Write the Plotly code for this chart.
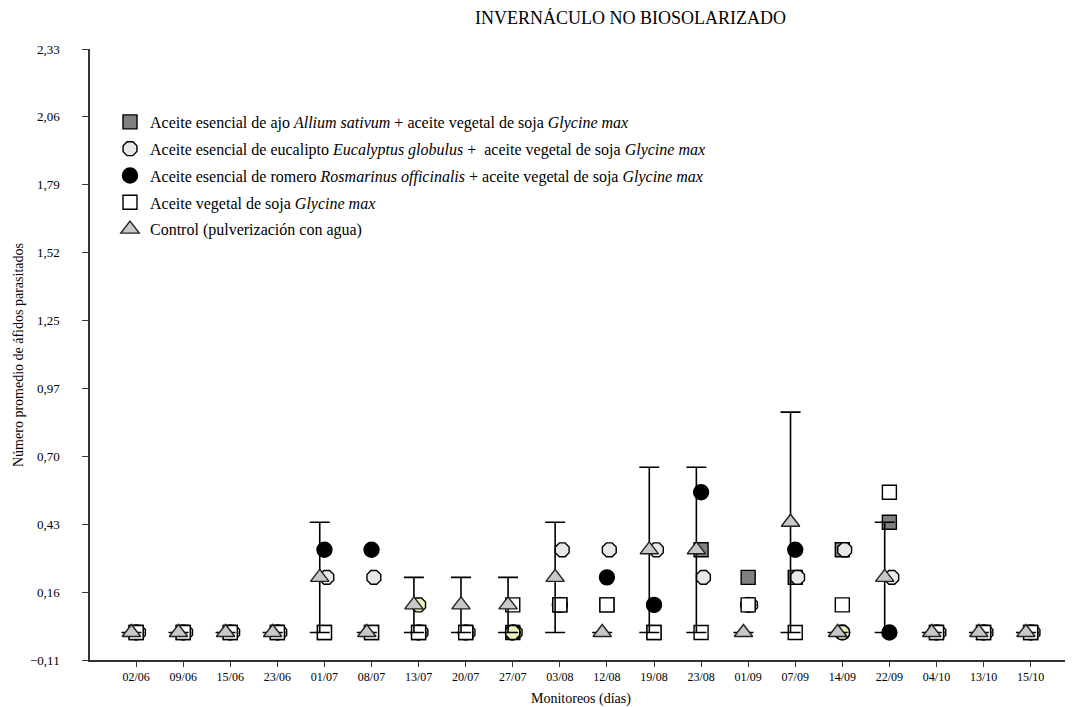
import numpy as np
import plotly.graph_objects as go

fechas = ["02/06", "09/06", "15/06", "23/06", "01/07", "08/07", "13/07", "20/07", "27/07", "03/08",
          "12/08", "19/08", "23/08", "01/09", "07/09", "14/09", "22/09", "04/10", "13/10", "15/10"]

ajo       = [0, 0, 0, 0, 0,    0,    0,    0,    0,    0.11, 0.11, 0,    0.33, 0.22, 0.22, 0.33, 0.44, 0, 0, 0]
eucalipto = [0, 0, 0, 0, 0.22, 0.22, 0,    0,    0,    0.33, 0.33, 0.33, 0.22, 0.11, 0.22, 0.33, 0.22, 0, 0, 0]
romero    = [0, 0, 0, 0, 0.33, 0.33, 0,    0,    0,    0.11, 0.22, 0.11, 0.56, 0.11, 0.33, 0,    0,    0, 0, 0]
extra     = [None, None, None, None, None, None, 0.11, None, 0, None,
             None, None, None, None, None, 0, None, None, None, None]
soja      = [0, 0, 0, 0, 0,    0,    0,    0,    0.11, 0.11, 0.11, 0,    0,    0.11, 0,    0.11, 0.56, 0, 0, 0]
control   = [0, 0, 0, 0, 0.22, 0,    0.11, 0.11, 0.11, 0.22, 0,    0.33, 0.33, 0,    0.44, 0,    0.22, 0, 0, 0]
control_err = [None, None, None, None, 0.22, None, 0.11, 0.11, 0.11, 0.22,
               None, 0.33, 0.33, None, 0.44, None, 0.22, None, None, None]

y_ticktext = ["\u22120,11", "0,16", "0,43", "0,70", "0,97", "1,25", "1,52", "1,79", "2,06", "2,33"]
y_min, y_max = -0.11, 2.33

FONT = "Liberation Serif"
pos = np.arange(len(fechas))

# page has an 8px body margin; figure is sized so the plot lands where the reference has it
W, H = 1065, 699
ML, MR, MT, MB = 82, 0, 41, 47
PW, PH = W - ML - MR, H - MT - MB

fig = go.Figure()

def add(name, vals, symbol, fill, offset=0.0, size=14, show=True, err=None, lc="black"):
    kw = {}
    if err is not None:
        kw["error_y"] = dict(type="data", array=err, color="black", thickness=1.6, width=10)
    fig.add_trace(go.Scatter(
        x=pos + offset, y=vals, mode="markers", name=name, showlegend=show, legendgroup=name,
        marker=dict(symbol=symbol, size=size, color=fill, line=dict(color=lc, width=1.4)),
        **kw))

add("Aceite esencial de ajo <i>Allium sativum</i> + aceite vegetal de soja <i>Glycine max</i>",
    ajo, "square", "#808080")
add("Aceite esencial de eucalipto <i>Eucalyptus globulus</i> +  aceite vegetal de soja <i>Glycine max</i>",
    eucalipto, "octagon", "#e8e8e8", offset=0.05, size=15)
add("Aceite esencial de romero <i>Rosmarinus officinalis</i> + aceite vegetal de soja <i>Glycine max</i>",
    romero, "circle", "black", size=15)
add("extra", extra, "octagon", "#eeeebe", size=15, show=False)
add("Aceite vegetal de soja <i>Glycine max</i>", soja, "square", "white")
add("Control (pulverización con agua)", control, "triangle-up", "#c8c8c8", offset=-0.1,
    size=16, err=control_err, lc="#222222")

def px_to_paper_x(xp):
    return (xp - 8 - ML) / PW

def px_to_paper_y(yp):
    return 1 - (yp - 8 - MT) / PH

fig.update_layout(
    width=W, height=H,
    margin=dict(l=ML, r=MR, t=MT, b=MB),
    paper_bgcolor="white", plot_bgcolor="white",
    font=dict(family=FONT, size=13, color="black"),
    showlegend=True,
    legend=dict(x=px_to_paper_x(110), y=px_to_paper_y(105), xanchor="left", yanchor="top",
                font=dict(family=FONT, size=16, color="black"), traceorder="grouped",
                tracegroupgap=3, bgcolor="rgba(0,0,0,0)", itemsizing="trace"),
    annotations=[
        dict(text="INVERNÁCULO NO BIOSOLARIZADO", xref="paper", yref="paper",
             x=px_to_paper_x(630), y=px_to_paper_y(18), xanchor="center", yanchor="middle",
             showarrow=False, font=dict(family=FONT, size=18)),
        dict(text="Monitoreos (días)", xref="paper", yref="paper",
             x=px_to_paper_x(581), y=px_to_paper_y(699), xanchor="center", yanchor="middle",
             showarrow=False, font=dict(family=FONT, size=14)),
        dict(text="Número promedio de áfidos parasitados", xref="paper", yref="paper",
             x=px_to_paper_x(18), y=px_to_paper_y(355), xanchor="center", yanchor="middle",
             textangle=-90, showarrow=False, font=dict(family=FONT, size=14)),
    ],
)

fig.update_xaxes(
    range=[-0.98, 19.9], tickmode="array", tickvals=pos, ticktext=fechas,
    showline=True, linecolor="#333333", linewidth=1.5, ticks="outside", ticklen=5,
    tickcolor="#333333", tickwidth=1.3, showgrid=False, zeroline=False,
    tickfont=dict(family=FONT, size=12),
)
fig.update_yaxes(
    range=[y_min, y_max], tickmode="array",
    tickvals=np.linspace(y_min, y_max, len(y_ticktext)), ticktext=y_ticktext,
    showline=True, linecolor="#333333", linewidth=1.5, ticks="outside", ticklen=6,
    tickcolor="#333333", tickwidth=1.3, showgrid=False, zeroline=False,
    tickfont=dict(family=FONT, size=13), ticklabelstandoff=20,
)

fig.write_html("out.html")
